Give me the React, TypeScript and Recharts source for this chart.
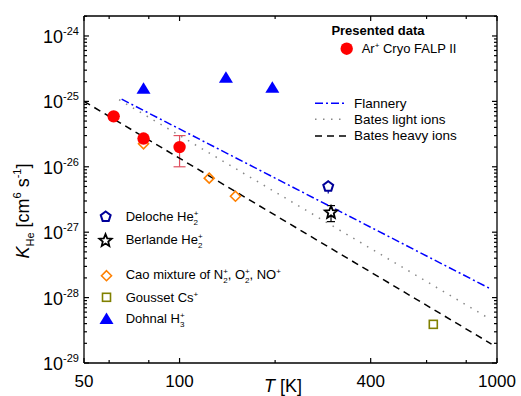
import { ErrorBar, Scatter, ScatterChart, XAxis, YAxis } from 'recharts'

const FONT = '"Liberation Sans", Arial, Helvetica, sans-serif'

// Presented data: Ar+ Cryo FALP II
const falpT = [62, 77, 100]
const falpK = [5.9e-26, 2.7e-26, 2.0e-26]
const falpErr = [0, 0, 1.0e-26]

// Cao mixture of N2+, O2+, NO+
const caoT = [77, 124, 150]
const caoK = [2.25e-26, 6.7e-27, 3.55e-27]

// Dohnal H3+
const dohnalT = [77, 140, 196]
const dohnalK = [1.56e-25, 2.3e-25, 1.62e-25]

// Deloche He2+
const delocheT = [294]
const delocheK = [5.0e-27]
const delocheErr = [1.1e-27]

// Berlande He2+
const berlandeT = [300]
const berlandeK = [2.0e-27]
const berlandeErr = [0.55e-27]

// Gousset Cs+
const goussetT = [630]
const goussetK = [3.9e-29]

// theory lines (end points)
const flanneryT = [65.7, 957]
const flanneryK = [1.08e-25, 1.35e-28]
const batesLightT = [64.5, 958]
const batesLightK = [1.06e-25, 4.6e-29]
const batesHeavyT = [50, 961]
const batesHeavyK = [1.0e-25, 1.95e-29]

const xTicks = [50, 60, 80, 100, 200, 400, 600, 800, 1000]
const xLabels = [50, 100, 400, 1000]
const yDecades = [-29, -28, -27, -26, -25, -24]
const yMinor = [1, 2, 3, 4, 5, 6, 7, 8, 9]
const yTop = 2.02e-24
const yTicks = yDecades
  .flatMap((d) => yMinor.map((m) => m * Math.pow(10, d)))
  .filter((v) => v <= yTop)

const pts = (t: number[], k: number[], err?: number[]) =>
  t.map((v, i) => ({ t: v, k: k[i], err: err ? err[i] : 0 }))

const isMajorY = (v: number) => Math.abs(Math.log10(v) - Math.round(Math.log10(v))) < 1e-6

function XTick({ x, y, payload, top }: any) {
  const major = xLabels.includes(payload.value)
  const len = major ? 5 : 3
  return (
    <g>
      <line x1={x} x2={x} y1={y} y2={top ? y + len : y - len} stroke="#000" strokeWidth={1.2} />
      {!top && major && (
        <text x={x} y={y + 24} textAnchor="middle" fontSize={17} fontFamily={FONT} fill="#000">
          {payload.value}
        </text>
      )}
    </g>
  )
}

function YTick({ x, y, payload, right }: any) {
  const major = isMajorY(payload.value)
  const len = major ? 5 : 3
  const exp = Math.round(Math.log10(payload.value))
  return (
    <g>
      <line x1={x} x2={right ? x - len : x + len} y1={y} y2={y} stroke="#000" strokeWidth={1.2} />
      {!right && major && (
        <text x={x - 5} y={y + 7} textAnchor="end" fontSize={18} fontFamily={FONT} fill="#000">
          <tspan>10</tspan>
          <tspan fontSize={11} dy={-8}>{exp}</tspan>
        </text>
      )}
    </g>
  )
}

const Circle = ({ cx, cy }: any) => <circle cx={cx} cy={cy} r={6.2} fill="#ff0000" />
const Triangle = ({ cx, cy }: any) => (
  <polygon points={`${cx},${cy - 6.5} ${cx - 7},${cy + 5} ${cx + 7},${cy + 5}`} fill="#0000ff" />
)
const Diamond = ({ cx, cy }: any) => (
  <polygon
    points={`${cx},${cy - 5} ${cx + 5},${cy} ${cx},${cy + 5} ${cx - 5},${cy}`}
    fill="none"
    stroke="#ff8000"
    strokeWidth={1.6}
  />
)
const Square = ({ cx, cy }: any) => (
  <rect x={cx - 4} y={cy - 4} width={8} height={8} fill="none" stroke="#808000" strokeWidth={1.6} />
)
const Pentagon = ({ cx, cy }: any) => {
  const p = [0, 1, 2, 3, 4].map((i) => {
    const a = ((-90 + 72 * i) * Math.PI) / 180
    return `${cx + 5.2 * Math.cos(a)},${cy + 5.2 * Math.sin(a)}`
  })
  return <polygon points={p.join(' ')} fill="#fff" stroke="#000099" strokeWidth={2} />
}
const Star = ({ cx, cy }: any) => {
  const p = Array.from({ length: 10 }, (_, i) => {
    const a = ((-90 + 36 * i) * Math.PI) / 180
    const r = i % 2 === 0 ? 6.5 : 2.9
    return `${cx + r * Math.cos(a)},${cy + r * Math.sin(a)}`
  })
  return <polygon points={p.join(' ')} fill="#fff" stroke="#000" strokeWidth={1.8} />
}
const NoDot = () => <g />

const flanneryDash = '8 3 2 3'
const lightDash = '1.5 6.5'
const heavyDash = '7 5'

// stacked superscript + subscript; leaves the baseline shifted by +4
function SupSub({ sup, sub }: { sup: string; sub: string }) {
  return (
    <>
      <tspan fontSize={8} dy={-5}>{sup}</tspan>
      <tspan fontSize={8} dx={-4.7} dy={9}>{sub}</tspan>
    </>
  )
}

function Overlay() {
  return (
    <svg
      width={521}
      height={396}
      style={{ position: 'absolute', left: 0, top: 0, pointerEvents: 'none' }}
      fontFamily={FONT}
      fill="#000"
    >
      {/* axis titles */}
      <text transform="translate(29,211) rotate(-90)" textAnchor="middle" fontSize={18}>
        <tspan fontStyle="italic">K</tspan>
        <tspan fontSize={11} dy={5}>He</tspan>
        <tspan dy={-5}> [cm</tspan>
        <tspan fontSize={11} dy={-8}>6</tspan>
        <tspan dy={8}> s</tspan>
        <tspan fontSize={11} dy={-8}>-1</tspan>
        <tspan dy={8}>]</tspan>
      </text>
      <text x={264} y={392} fontSize={18}>
        <tspan fontStyle="italic">T</tspan> [K]
      </text>

      {/* presented data legend */}
      <text x={378} y={34.5} textAnchor="middle" fontSize={13} fontWeight="bold">
        Presented data
      </text>
      <Circle cx={346.7} cy={48.7} />
      <text x={361.7} y={52.7} fontSize={13}>
        Ar<tspan fontSize={8} dy={-5}>+</tspan>
        <tspan dy={5}> Cryo FALP II</tspan>
      </text>

      {/* theory legend */}
      <line x1={315} x2={347} y1={103.3} y2={103.3} stroke="#0000ff" strokeWidth={1.5} strokeDasharray={flanneryDash} />
      <text x={354} y={107.5} fontSize={13.5}>Flannery</text>
      <line x1={315} x2={347} y1={119.3} y2={119.3} stroke="#888" strokeWidth={1.5} strokeDasharray={lightDash} />
      <text x={354} y={123.5} fontSize={13.5}>Bates light ions</text>
      <line x1={315} x2={347} y1={136} y2={136} stroke="#000" strokeWidth={1.5} strokeDasharray={heavyDash} />
      <text x={354} y={140.2} fontSize={13.5}>Bates heavy ions</text>

      {/* literature legend */}
      <Pentagon cx={105.7} cy={216.7} />
      <text x={125.7} y={220.7} fontSize={13}>
        Deloche He<SupSub sup="+" sub="2" />
      </text>
      <Star cx={105.5} cy={240.7} />
      <text x={125.7} y={244.3} fontSize={13}>
        Berlande He<SupSub sup="+" sub="2" />
      </text>
      <Diamond cx={106.5} cy={275.7} />
      <text x={125.7} y={279.3} fontSize={13}>
        Cao mixture of N<SupSub sup="+" sub="2" />
        <tspan dy={-4}>, O</tspan>
        <SupSub sup="+" sub="2" />
        <tspan dy={-4}>, NO</tspan>
        <tspan fontSize={8} dy={-5}>+</tspan>
      </text>
      <Square cx={106.5} cy={297.3} />
      <text x={125.7} y={301.7} fontSize={13}>
        Gousset Cs<tspan fontSize={8} dy={-5}>+</tspan>
      </text>
      <Triangle cx={106.5} cy={319} />
      <text x={125.7} y={323.3} fontSize={13}>
        Dohnal H<SupSub sup="+" sub="3" />
      </text>
    </svg>
  )
}

export default function App() {
  const axisLine = { stroke: '#000', strokeWidth: 1.3 }
  return (
    <div style={{ position: 'absolute', left: 0, top: 0, width: 521, height: 396, background: '#fff' }}>
      <ScatterChart width={521} height={396} margin={{ top: 15, right: 23, bottom: 0, left: 0 }}>
        <XAxis
          type="number"
          dataKey="t"
          scale="log"
          domain={[50, 1000]}
          allowDataOverflow
          ticks={xTicks}
          interval={0}
          height={33}
          tickSize={0}
          tickMargin={0}
          tickLine={false}
          axisLine={axisLine}
          tick={<XTick />}
        />
        <XAxis
          xAxisId="top"
          orientation="top"
          type="number"
          dataKey="t"
          scale="log"
          domain={[50, 1000]}
          allowDataOverflow
          ticks={xTicks}
          interval={0}
          height={1}
          tickSize={0}
          tickMargin={0}
          tickLine={false}
          axisLine={axisLine}
          tick={<XTick top />}
        />
        <YAxis
          type="number"
          dataKey="k"
          scale="log"
          domain={[1e-29, yTop]}
          allowDataOverflow
          ticks={yTicks}
          interval={0}
          width={84}
          tickSize={0}
          tickMargin={0}
          tickLine={false}
          axisLine={axisLine}
          tick={<YTick />}
        />
        <YAxis
          yAxisId="right"
          orientation="right"
          type="number"
          dataKey="k"
          scale="log"
          domain={[1e-29, yTop]}
          allowDataOverflow
          ticks={yTicks}
          interval={0}
          width={1}
          tickSize={0}
          tickMargin={0}
          tickLine={false}
          axisLine={axisLine}
          tick={<YTick right />}
        />

        <Scatter
          data={pts(batesHeavyT, batesHeavyK)}
          shape={NoDot}
          line={{ stroke: '#000', strokeWidth: 1.5, strokeDasharray: heavyDash }}
          isAnimationActive={false}
        />
        <Scatter
          data={pts(batesLightT, batesLightK)}
          shape={NoDot}
          line={{ stroke: '#888', strokeWidth: 1.5, strokeDasharray: lightDash }}
          isAnimationActive={false}
        />
        <Scatter
          data={pts(flanneryT, flanneryK)}
          shape={NoDot}
          line={{ stroke: '#0000ff', strokeWidth: 1.5, strokeDasharray: flanneryDash }}
          isAnimationActive={false}
        />

        <Scatter data={pts(caoT, caoK)} shape={Diamond} isAnimationActive={false} />
        <Scatter data={pts(goussetT, goussetK)} shape={Square} isAnimationActive={false} />
        <Scatter data={pts(delocheT, delocheK, delocheErr)} shape={Pentagon} isAnimationActive={false}>
          <ErrorBar dataKey="err" direction="y" width={0} stroke="#000099" strokeWidth={1.2} />
        </Scatter>
        <Scatter data={pts(berlandeT, berlandeK, berlandeErr)} shape={Star} isAnimationActive={false}>
          <ErrorBar dataKey="err" direction="y" width={4} stroke="#000" strokeWidth={1.2} />
        </Scatter>
        <Scatter data={pts(dohnalT, dohnalK)} shape={Triangle} isAnimationActive={false} />
        <Scatter data={pts(falpT, falpK, falpErr)} shape={Circle} isAnimationActive={false}>
          <ErrorBar dataKey="err" direction="y" width={6} stroke="#e05060" strokeWidth={1.2} />
        </Scatter>
      </ScatterChart>
      <Overlay />
    </div>
  )
}
